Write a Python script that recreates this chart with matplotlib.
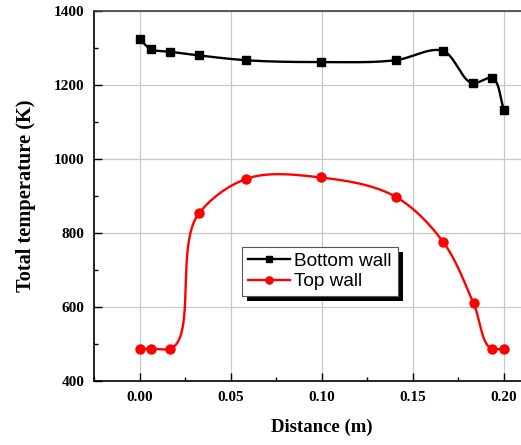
import numpy as np
import matplotlib
matplotlib.use("Agg")
import matplotlib.pyplot as plt
from matplotlib.ticker import MultipleLocator, FormatStrFormatter
from matplotlib.patches import Rectangle

x_bottom = [0.0, 0.00625, 0.0165, 0.0326, 0.0584, 0.0995, 0.1405, 0.1666, 0.1829, 0.1935, 0.2]
t_bottom = [1323, 1297, 1290, 1280, 1267, 1262, 1267, 1292, 1205, 1219, 1133]

x_top = [0.0, 0.00625, 0.0165, 0.0327, 0.0584, 0.0995, 0.1405, 0.1666, 0.1833, 0.1935, 0.2]
t_top = [487, 487, 487, 854, 946, 950, 898, 776, 610, 487, 487]

labels = ["Bottom wall", "Top wall"]


def catmull_rom(P, alpha=0.8, n=60):
    """Catmull-Rom through the points P (display coords)."""
    P = np.vstack([2 * P[0] - P[1], P, 2 * P[-1] - P[-2]])
    out = []
    for i in range(1, len(P) - 2):
        p0, p1, p2, p3 = P[i - 1], P[i], P[i + 1], P[i + 2]
        t0 = 0.0
        t1 = t0 + np.linalg.norm(p1 - p0) ** alpha
        t2 = t1 + np.linalg.norm(p2 - p1) ** alpha
        t3 = t2 + np.linalg.norm(p3 - p2) ** alpha
        t = np.linspace(t1, t2, n)[:, None]
        a1 = (t1 - t) / (t1 - t0) * p0 + (t - t0) / (t1 - t0) * p1
        a2 = (t2 - t) / (t2 - t1) * p1 + (t - t1) / (t2 - t1) * p2
        a3 = (t3 - t) / (t3 - t2) * p2 + (t - t2) / (t3 - t2) * p3
        b1 = (t2 - t) / (t2 - t0) * a1 + (t - t0) / (t2 - t0) * a2
        b2 = (t3 - t) / (t3 - t1) * a2 + (t - t1) / (t3 - t1) * a3
        c = (t2 - t) / (t2 - t1) * b1 + (t - t1) / (t2 - t1) * b2
        out.append(c)
    return np.vstack(out)


def smooth_curve(ax, x, y):
    pts = ax.transData.transform(np.column_stack([x, y]))
    c = catmull_rom(pts)
    data = ax.transData.inverted().transform(c)
    return data[:, 0], data[:, 1]


fig = plt.figure(figsize=(5.21, 4.45), dpi=100)
ax = fig.add_axes([94 / 521, 64 / 445, 455.5 / 521, 370 / 445])
ax.set_xlim(-0.025, 0.225)
ax.set_ylim(400, 1400)

serif = ["Liberation Serif", "DejaVu Serif"]
sans = ["Liberation Sans", "DejaVu Sans"]

for xd, yd, col, mk, ms, lab in [
    (x_bottom, t_bottom, "black", "s", 5.5, labels[0]),
    (x_top, t_top, "#ff0000", "o", 6.5, labels[1]),
]:
    xs, ys = smooth_curve(ax, np.asarray(xd, float), np.asarray(yd, float))
    ax.plot(xs, ys, color=col, lw=1.7, zorder=3)
    ax.plot(xd, yd, ls="none", marker=mk, ms=ms, color=col, zorder=4)
    ax.plot([], [], color=col, lw=1.7, marker=mk, ms=ms * 0.8, label=lab)

ax.set_xlim(-0.025, 0.225)
ax.set_ylim(400, 1400)
ax.xaxis.set_minor_locator(MultipleLocator(0.025))
ax.yaxis.set_major_locator(MultipleLocator(200))
ax.yaxis.set_minor_locator(MultipleLocator(100))
ax.set_xticks([0.0, 0.05, 0.10, 0.15, 0.20])
ax.xaxis.set_major_formatter(FormatStrFormatter("%.2f"))
ax.grid(True, which="major", color="#c8c8c8", lw=0.9)
ax.set_axisbelow(True)
ax.tick_params(which="major", direction="in", length=5.5, width=1, pad=7)
ax.tick_params(which="minor", direction="in", length=2.8, width=1)
for lab in ax.get_xticklabels() + ax.get_yticklabels():
    lab.set_fontfamily(serif)
    lab.set_fontweight("bold")
    lab.set_fontsize(11)
for s in ax.spines.values():
    s.set_linewidth(1.2)
ax.spines["top"].set_color("#404040")

ax.set_xlabel("Distance (m)", fontfamily=serif, fontweight="bold", fontsize=13.5, labelpad=11)
ax.set_ylabel("Total temperature (K)", fontfamily=serif, fontweight="bold", fontsize=14.7, labelpad=13)

leg = ax.legend(loc="upper left", bbox_to_anchor=((242 - 94) / 455.5, (381 - 247) / 370),
                prop={"family": sans, "size": 13.7}, frameon=True, fancybox=False,
                handlelength=2.2, handletextpad=0.25, borderpad=0.3, labelspacing=0.15,
                borderaxespad=0)
leg.get_frame().set_edgecolor("#555555")
leg.get_frame().set_linewidth(0.8)
leg.get_frame().set_alpha(None)
leg.get_frame().set_facecolor("white")
leg.set_zorder(10)

fig.canvas.draw()
bb = leg.get_window_extent()
shadow = Rectangle((bb.x0 + 5, bb.y0 - 5), bb.width, bb.height, transform=None,
                   facecolor="black", edgecolor="none", zorder=9)
ax.add_artist(shadow)

fig.savefig("out.png", dpi=100)
